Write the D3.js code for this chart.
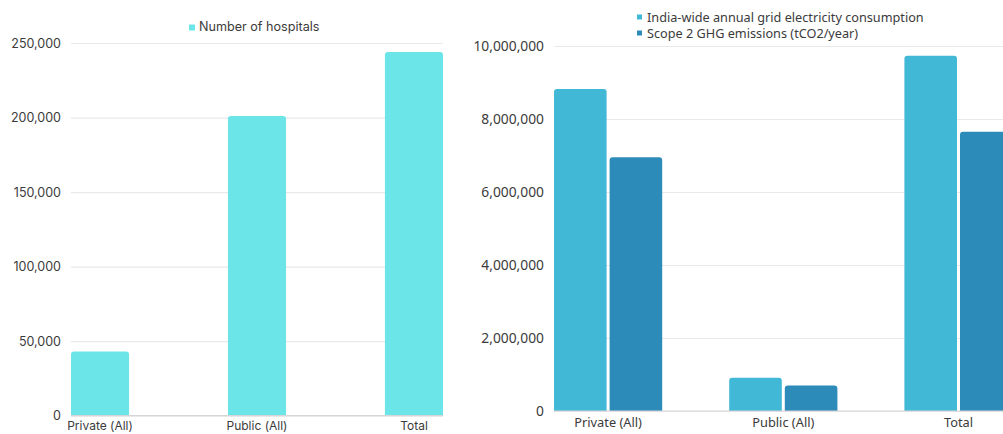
<!DOCTYPE html>
<html>
<head>
<meta charset="utf-8">
<script src="https://cdn.jsdelivr.net/npm/d3@7"></script>
<style>
  html, body { margin: 0; padding: 0; background: #ffffff; }
  svg { display: block; }
</style>
</head>
<body>
<svg id="chart" width="1003" height="434"></svg>
<script>
// ---------- Data ----------
const categories = ["Private (All)", "Public (All)", "Total"];

const hospitalSeriesName = "Number of hospitals";
const hospitalCounts = [43000, 201000, 244000];
const hospitalTicks = [0, 50000, 100000, 150000, 200000, 250000];

const energySeriesNames = ["India-wide annual grid electricity consumption", "Scope 2 GHG emissions (tCO2/year)"];
const electricityConsumption = [8820000, 910000, 9730000];
const scope2Emissions = [6950000, 700000, 7650000];
const energyTicks = [0, 2000000, 4000000, 6000000, 8000000, 10000000];

// ---------- Styles ----------
const leftFont = "Inter, 'Noto Sans', sans-serif";
const rightFont = "'Noto Sans', 'Open Sans', sans-serif";
const textColor = "#3b3b3b";
const gridColor = "#e9e9e9";
const baseColor = "#d6d6d6";
const hospitalColor = "#6ce5e8";
const energyColors = ["#41b8d6", "#2d8bba"];
const fmt = d3.format(",");

const svg = d3.select("#chart");

function topRoundedRect(x, y, w, h, r) {
  r = Math.min(r, w / 2, h);
  return `M${x},${y + h}V${y + r}Q${x},${y} ${x + r},${y}H${x + w - r}Q${x + w},${y} ${x + w},${y + r}V${y + h}Z`;
}

// ---------- Left chart ----------
{
  const x = d3.scaleBand().domain(categories).range([71, 443]).paddingInner(0.63).paddingOuter(0);
  const y = d3.scaleLinear().domain([0, 250000]).range([415.7, 43]);
  const g = svg.append("g");

  const yAxis = d3.axisLeft(y).tickValues(hospitalTicks).tickFormat(fmt).tickSize(-(443 - 71)).tickPadding(10);
  const ya = g.append("g").attr("transform", "translate(71,0)").call(yAxis);
  ya.select(".domain").remove();
  ya.selectAll(".tick line").attr("stroke", gridColor).attr("stroke-width", 1.2);
  ya.selectAll(".tick text").attr("fill", textColor).attr("font-family", leftFont).attr("font-size", 12.5);

  g.selectAll("path.bar").data(hospitalCounts).join("path")
    .attr("class", "bar")
    .attr("fill", hospitalColor)
    .attr("d", (d, i) => topRoundedRect(x(categories[i]), y(d), x.bandwidth(), y(0) - y(d), 3));

  g.append("line").attr("x1", 71).attr("x2", 443).attr("y1", y(0)).attr("y2", y(0))
    .attr("stroke", baseColor).attr("stroke-width", 1.2);

  const xAxis = d3.axisBottom(x).tickSize(0).tickPadding(6);
  const xa = g.append("g").attr("transform", `translate(0,${y(0)})`).call(xAxis);
  xa.select(".domain").remove();
  xa.selectAll(".tick text").attr("fill", textColor).attr("font-family", leftFont).attr("font-size", 12);

  const lg = g.append("g").attr("transform", "translate(189,0)");
  lg.append("rect").attr("x", 0).attr("y", 24.5).attr("width", 6).attr("height", 6).attr("fill", hospitalColor);
  lg.append("text").attr("x", 10).attr("y", 31).attr("fill", textColor)
    .attr("font-family", leftFont).attr("font-size", 12.6).text(hospitalSeriesName);
}

// ---------- Right chart ----------
{
  const left = 554, step = 175.2, groupW = 108.2;
  const x0 = d3.scaleBand().domain(categories).range([left, left + 2 * step + groupW])
    .paddingInner(1 - groupW / step).paddingOuter(0);
  const x1 = d3.scaleBand().domain([0, 1]).range([0, x0.bandwidth()]).paddingInner(0.054).paddingOuter(0);
  const y = d3.scaleLinear().domain([0, 10000000]).range([411, 46]);
  const g = svg.append("g");

  const right = 1013;
  const yAxis = d3.axisLeft(y).tickValues(energyTicks).tickFormat(fmt).tickSize(-(right - left)).tickPadding(10);
  const ya = g.append("g").attr("transform", `translate(${left},0)`).call(yAxis);
  ya.select(".domain").remove();
  ya.selectAll(".tick line").attr("stroke", gridColor).attr("stroke-width", 1.2);
  ya.selectAll(".tick text").attr("fill", textColor).attr("font-family", rightFont).attr("font-size", 13.8);

  const series = [electricityConsumption, scope2Emissions];
  series.forEach((vals, s) => {
    g.selectAll(`path.bar${s}`).data(vals).join("path")
      .attr("class", `bar${s}`)
      .attr("fill", energyColors[s])
      .attr("d", (d, i) => topRoundedRect(x0(categories[i]) + x1(s), y(d), x1.bandwidth(), y(0) - y(d), 3));
  });

  g.append("line").attr("x1", left).attr("x2", right).attr("y1", y(0)).attr("y2", y(0))
    .attr("stroke", baseColor).attr("stroke-width", 1.2);

  const xAxis = d3.axisBottom(x0).tickSize(0).tickPadding(7);
  const xa = g.append("g").attr("transform", `translate(0,${y(0)})`).call(xAxis);
  xa.select(".domain").remove();
  xa.selectAll(".tick text").attr("fill", textColor).attr("font-family", rightFont).attr("font-size", 12.8);

  const lg = g.append("g").attr("transform", "translate(637,0)");
  energySeriesNames.forEach((name, s) => {
    const by = 21.5 + s * 16;
    lg.append("rect").attr("x", 0).attr("y", by - 7).attr("width", 5).attr("height", 5).attr("fill", energyColors[s]);
    lg.append("text").attr("x", 10).attr("y", by).attr("fill", textColor)
      .attr("font-family", rightFont).attr("font-size", 12.7).text(name);
  });
}
</script>
</body>
</html>
